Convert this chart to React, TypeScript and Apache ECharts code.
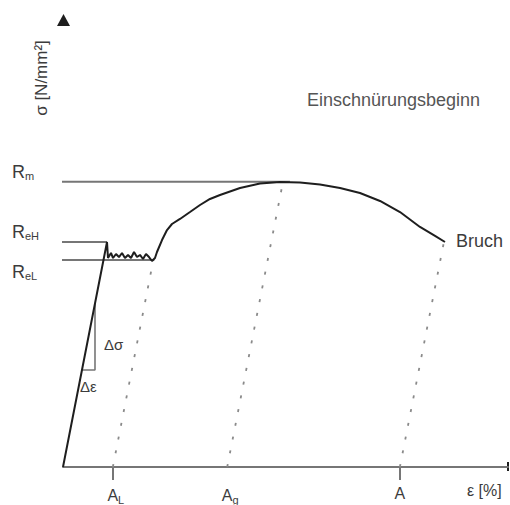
import React, { useEffect, useRef } from "react";
import * as echarts from "echarts";

// Stress–strain curve (strain in arbitrary % units, stress in N/mm²)
const strain = [0, 9.89, 10.11, 10.79, 11.24, 11.91, 12.58, 13.26, 13.93, 14.61, 15.28, 15.96, 16.63, 17.3, 17.98, 18.65, 19.33, 20.0, 20.67, 21.12, 22.25, 23.37, 24.49, 26.29, 28.54, 30.79, 33.03, 35.28, 39.78, 44.27, 48.76, 53.26, 57.75, 62.25, 66.74, 71.24, 75.73, 80.22, 83.6, 85.84];
const stress = [0, 250, 232.2, 237.8, 232.2, 236.7, 233.3, 237.8, 232.2, 235.6, 232.2, 238.9, 233.3, 235.6, 231.1, 236.7, 233.3, 228.9, 232.2, 238.9, 252.2, 263.3, 270, 275.6, 283.3, 291.1, 297.8, 302.2, 310, 315, 316.7, 316.1, 313.9, 310, 304.4, 295.6, 283.3, 266.7, 256.7, 250];

// Characteristic stress levels: Rm, ReH, ReL
const refNames = ["Rm", "ReH", "ReL"];
const refStress = [317, 250, 230];
const refStart = [-2.5, -2.5, -2.5];
const refEnd = [51, 9.9, 20.5];

// Unloading lines (parallel to elastic slope) to A_L, A_g, A
const markNames = ["L", "g", ""];
const markStrain = [11.2, 36.9, 75.7];
const tickStrain = [11.2, 75.7];
const unloadTopStrain = [20.3, 49.4, 85.6];
const unloadTopStress = [230, 316, 250];

// Slope triangle (Δσ / Δε)
const triStrain = [4.26, 7.19, 7.19];
const triStress = [107.8, 107.8, 182];

const FONT = '"Liberation Sans", Arial, sans-serif';

export default function App() {
  const ref = useRef<HTMLDivElement>(null);
  useEffect(() => {
    document.body.style.margin = "0";
    const chart = echarts.init(ref.current!, null, { renderer: "svg" });
    const gray = "#767676";
    const dark = "#1e1e1e";
    const txt = "#3c3c3c";

    const series: any[] = [];
    series.push({
      type: "line",
      data: strain.map((x, i) => [x, stress[i]]),
      symbol: "none",
      lineStyle: { color: dark, width: 2 },
      z: 5,
    });
    refStress.forEach((s, i) => {
      series.push({
        type: "line",
        name: refNames[i],
        data: [
          [refStart[i], s],
          [refEnd[i], s],
        ],
        symbol: "none",
        clip: false,
        lineStyle: { color: gray, width: 2 },
        z: 3,
      });
    });
    markStrain.forEach((m, i) => {
      series.push({
        type: "line",
        data: [
          [m, 0],
          [unloadTopStrain[i], unloadTopStress[i]],
        ],
        symbol: "none",
        lineStyle: { color: "#8a8a8a", width: 1.8, type: [3, 11] },
        z: 2,
      });
    });
    series.push({
      type: "line",
      data: triStrain.map((x, i) => [x, triStress[i]]),
      symbol: "none",
      lineStyle: { color: gray, width: 1.6 },
      z: 4,
    });

    const option: any = {
      animation: false,
      backgroundColor: "#ffffff",
      grid: { left: 63, right: 2, top: 17, bottom: 38 },
      xAxis: {
        type: "value",
        min: 0,
        max: 100,
        axisLine: { show: true, lineStyle: { color: gray, width: 2 } },
        axisTick: {
          show: true,
          customValues: tickStrain,
          length: 13,
          lineStyle: { color: gray, width: 2 },
        },
        axisLabel: {
          show: true,
          customValues: markStrain,
          margin: 18,
          formatter: (v: number) => {
            const i = markStrain.findIndex((m) => Math.abs(m - v) < 1e-6);
            const sub = i >= 0 ? markNames[i] : "";
            return sub ? `{a|A}{s|${sub}}` : `{b|A}`;
          },
          rich: {
            a: { fontSize: 16, fontFamily: FONT, color: txt, padding: [0, 0, 0, 6] },
            b: { fontSize: 16, fontFamily: FONT, color: txt },
            s: { fontSize: 11, fontFamily: FONT, color: txt, verticalAlign: "bottom", padding: [9, 0, 0, 0] },
          },
        },
        splitLine: { show: false },
      },
      yAxis: {
        type: "value",
        min: 0,
        max: 500,
        axisLine: { show: false },
        axisTick: { show: false },
        axisLabel: { show: false },
        splitLine: { show: false },
      },
      series,
      graphic: [
        { type: "polygon", shape: { points: [[57, 26], [70, 26], [63.5, 14]] }, style: { fill: dark } },
        { type: "rect", shape: { x: 507, y: 462, width: 2, height: 9 }, style: { fill: dark } },
        {
          type: "text",
          x: 41,
          y: 78,
          rotation: Math.PI / 2,
          style: { text: "σ [N/mm²]", font: `17px ${FONT}`, fill: txt, align: "center", verticalAlign: "middle" },
        },
        {
          type: "text",
          x: 307,
          y: 100,
          style: { text: "Einschnürungsbeginn", font: `18px ${FONT}`, fill: "#555", align: "left", verticalAlign: "middle" },
        },
        {
          type: "text",
          x: 456,
          y: 241,
          style: { text: "Bruch", font: `18px ${FONT}`, fill: txt, align: "left", verticalAlign: "middle" },
        },
        {
          type: "text",
          x: 12,
          y: 162,
          style: {
            text: "{r|R}{s|m}",
            fill: txt,
            rich: {
              r: { fontSize: 18, fontFamily: FONT, fill: txt },
              s: { fontSize: 11, fontFamily: FONT, fill: txt, verticalAlign: "bottom", padding: [8, 0, 0, 0] },
            },
          },
        },
        {
          type: "text",
          x: 12,
          y: 222,
          style: {
            text: "{r|R}{s|eH}",
            fill: txt,
            rich: {
              r: { fontSize: 18, fontFamily: FONT, fill: txt },
              s: { fontSize: 11, fontFamily: FONT, fill: txt, verticalAlign: "bottom", padding: [8, 0, 0, 0] },
            },
          },
        },
        {
          type: "text",
          x: 12,
          y: 262,
          style: {
            text: "{r|R}{s|eL}",
            fill: txt,
            rich: {
              r: { fontSize: 18, fontFamily: FONT, fill: txt },
              s: { fontSize: 11, fontFamily: FONT, fill: txt, verticalAlign: "bottom", padding: [8, 0, 0, 0] },
            },
          },
        },
        {
          type: "text",
          x: 104,
          y: 344,
          style: { text: "Δσ", font: `15px ${FONT}`, fill: txt, align: "left", verticalAlign: "middle" },
        },
        {
          type: "text",
          x: 80,
          y: 386,
          style: { text: "Δε", font: `15px ${FONT}`, fill: txt, align: "left", verticalAlign: "middle" },
        },
        {
          type: "text",
          x: 467,
          y: 490,
          style: { text: "ε [%]", font: `16px ${FONT}`, fill: txt, align: "left", verticalAlign: "middle" },
        },
      ],
    };
    chart.setOption(option);
    return () => chart.dispose();
  }, []);
  return (
    <div
      ref={ref}
      style={{ position: "fixed", left: 0, top: 0, width: 510, height: 505 }}
    />
  );
}
